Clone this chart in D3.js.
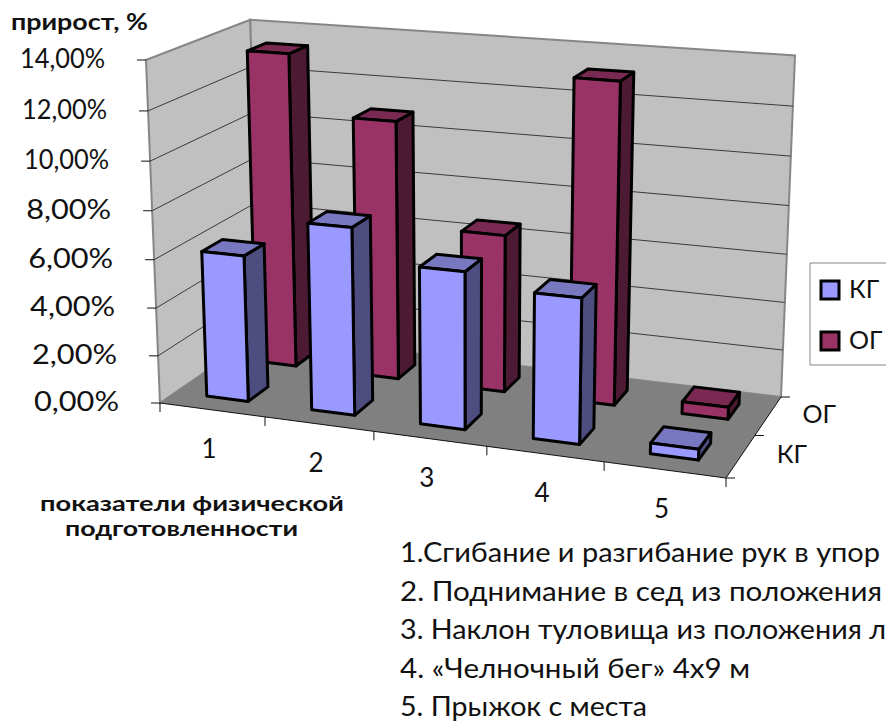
<!DOCTYPE html>
<html>
<head>
<meta charset="utf-8">
<script src="https://cdnjs.cloudflare.com/ajax/libs/d3/7.8.5/d3.min.js"></script>
<style>
  html, body { margin: 0; padding: 0; background: #fff; overflow: hidden; }
  text { font-family: Lato, "Open Sans", sans-serif; fill: #111; }
</style>
</head>
<body>
<script>
// Data
const categories = ["1", "2", "3", "4", "5"];
const seriesNames = ["КГ", "ОГ"];
const kgValues = [6.1, 7.7, 6.4, 5.85, 0.43];
const ogValues = [13.35, 10.9, 6.6, 13.2, 0.5];
const yTicks = [0, 2, 4, 6, 8, 10, 12, 14];
const notes = [
  "1.Сгибание и разгибание рук в упор",
  "2. Поднимание в сед из положения",
  "3. Наклон туловища из положения л",
  "4. «Челночный бег» 4х9 м",
  "5. Прыжок с места"
];

const width = 886, height = 722;

const svg = d3.select("body").append("svg")
  .attr("width", width)
  .attr("height", height);

// Scales work in the chart's own box: u along categories, w in depth, v up
const u = d3.scaleBand().domain(categories).range([0, 1]).paddingInner(0.6).paddingOuter(0.3);
const w = d3.scaleBand().domain(seriesNames).range([0, 1]).paddingInner(0.6).paddingOuter(0.3);
const v = d3.scaleLinear().domain([0, 14]).range([0, 1]);

// Perspective camera, calibrated on the floor corners and the vertical vanishing point
const floor = [[160, 403], [726, 478], [781, 397], [259, 335]];
const vanish = [470, 7990], lift = -0.04325;

function makeCamera(q) {
  const dx1 = q[1][0] - q[2][0], dx2 = q[3][0] - q[2][0], sx = q[0][0] - q[1][0] + q[2][0] - q[3][0];
  const dy1 = q[1][1] - q[2][1], dy2 = q[3][1] - q[2][1], sy = q[0][1] - q[1][1] + q[2][1] - q[3][1];
  const det = dx1 * dy2 - dx2 * dy1;
  const g = (sx * dy2 - dx2 * sy) / det, h = (dx1 * sy - sx * dy1) / det;
  const a = q[1][0] - q[0][0] + g * q[1][0], b = q[3][0] - q[0][0] + h * q[3][0];
  const d = q[1][1] - q[0][1] + g * q[1][1], e = q[3][1] - q[0][1] + h * q[3][1];
  return (pu, pw, pv) => {
    const k = lift * pv;
    const den = g * pu + h * pw + 1 + k;
    return [(a * pu + b * pw + q[0][0] + k * vanish[0]) / den,
            (d * pu + e * pw + q[0][1] + k * vanish[1]) / den];
  };
}
const project = makeCamera(floor);
const poly = pts => "M" + pts.map(p => p.join(",")).join("L") + "Z";
const seg = pts => "M" + pts.map(p => p.join(",")).join("L");

// Walls and floor
const edge = "#868686";
svg.append("path").attr("fill", "#c0c0c0").attr("stroke", edge).attr("stroke-width", 2)
  .attr("d", poly([project(0, 0, 0), project(0, 0, 1), project(0, 1, 1), project(0, 1, 0)]));
svg.append("path").attr("fill", "#c0c0c0").attr("stroke", edge).attr("stroke-width", 2)
  .attr("d", poly([project(0, 1, 0), project(0, 1, 1), project(1, 1, 1), project(1, 1, 0)]));
svg.append("path").attr("fill", "#808080")
  .attr("d", poly([project(0, 0, 0), project(1, 0, 0), project(1, 1, 0), project(0, 1, 0)]));

// Gridlines
svg.append("g").selectAll("path")
  .data(yTicks.slice(1, -1))
  .enter().append("path")
  .attr("fill", "none").attr("stroke", "#3a3a3a").attr("stroke-width", 1)
  .attr("d", t => seg([project(0, 0, v(t)), project(0, 1, v(t)), project(1, 1, v(t))]));

// Front edge of the floor and axis ticks
const axisColor = "#111";
svg.append("path").attr("fill", "none").attr("stroke", axisColor).attr("stroke-width", 1)
  .attr("d", seg([project(0, 0, 0), project(1, 0, 0), project(1, 1, 0)]));

const fmt = d3.formatLocale({ decimal: ",", thousands: " ", grouping: [3], currency: ["", ""] }).format(".2%");
const yAxis = svg.append("g");
yTicks.forEach(t => {
  const p = project(0, 0, v(t));
  yAxis.append("line").attr("x1", p[0] - 9).attr("x2", p[0]).attr("y1", p[1]).attr("y2", p[1])
    .attr("stroke", axisColor).attr("stroke-width", 1);
  yAxis.append("text").attr("x", p[0] - 41).attr("y", p[1] + 8)
    .attr("text-anchor", "end").attr("font-size", 27)
    .attr("textLength", 85).attr("lengthAdjust", "spacingAndGlyphs")
    .text(fmt(t / 100));
});

const xStep = u.step();
d3.range(categories.length + 1).forEach(i => {
  const p = project(i * xStep, 0, 0);
  svg.append("line").attr("x1", p[0]).attr("x2", p[0]).attr("y1", p[1]).attr("y2", p[1] + 9)
    .attr("stroke", axisColor).attr("stroke-width", 1);
});
categories.forEach(c => {
  const p = project(u(c) + u.bandwidth() / 2, 0, 0);
  svg.append("text").attr("x", p[0] - 3).attr("y", p[1] + 48)
    .attr("text-anchor", "middle").attr("font-size", 26).text(c);
});
[0, 0.5, 1].forEach(t => {
  const p = project(1, t, 0);
  svg.append("line").attr("x1", p[0]).attr("x2", p[0] + 9).attr("y1", p[1]).attr("y2", p[1])
    .attr("stroke", axisColor).attr("stroke-width", 1);
});
seriesNames.forEach(s => {
  const p = project(1, w(s) + w.bandwidth() / 2, 0);
  svg.append("text").attr("x", p[0] + 51).attr("y", p[1] + 7)
    .attr("text-anchor", "middle").attr("font-size", 25).text(s);
});

// Bars, back row first
const palette = {
  "КГ": { front: "#9999ff", side: "#4d4d80", top: "#7878c0" },
  "ОГ": { front: "#993366", side: "#4d1a33", top: "#7a2952" }
};
const rows = [
  { name: "ОГ", values: ogValues },
  { name: "КГ", values: kgValues }
];
rows.forEach(row => {
  const g = svg.append("g").attr("stroke", "#000").attr("stroke-width", 3).attr("stroke-linejoin", "round");
  const colors = palette[row.name];
  const w0 = w(row.name), w1 = w0 + w.bandwidth();
  row.values.forEach((val, i) => {
    const u0 = u(categories[i]), u1 = u0 + u.bandwidth(), top = v(val);
    g.append("path").attr("fill", colors.side)
      .attr("d", poly([project(u1, w0, 0), project(u1, w1, 0), project(u1, w1, top), project(u1, w0, top)]));
    g.append("path").attr("fill", colors.top)
      .attr("d", poly([project(u0, w0, top), project(u1, w0, top), project(u1, w1, top), project(u0, w1, top)]));
    g.append("path").attr("fill", colors.front)
      .attr("d", poly([project(u0, w0, 0), project(u1, w0, 0), project(u1, w0, top), project(u0, w0, top)]));
  });
});

// Legend, runs off the right of the page like the original
svg.append("path").attr("fill", "#fff").attr("stroke", edge).attr("stroke-width", 1)
  .attr("d", "M886,263H810V365H886");
const legendY = d3.scalePoint().domain(seriesNames).range([290, 341]);
seriesNames.forEach(s => {
  svg.append("rect").attr("x", 821).attr("y", legendY(s) - 9).attr("width", 18).attr("height", 18)
    .attr("fill", palette[s].front).attr("stroke", "#000").attr("stroke-width", 3);
  svg.append("text").attr("x", 849).attr("y", legendY(s) + 8).attr("font-size", 25).text(s);
});

// Axis titles
svg.append("text").attr("x", 11).attr("y", 30).attr("font-size", 23).attr("font-weight", 700)
  .attr("textLength", 137).attr("lengthAdjust", "spacingAndGlyphs").text("прирост, %");
svg.append("text").attr("x", 40).attr("y", 511).attr("font-size", 21).attr("font-weight", 700)
  .attr("textLength", 304).attr("lengthAdjust", "spacingAndGlyphs").text("показатели физической");
svg.append("text").attr("x", 65).attr("y", 536).attr("font-size", 21).attr("font-weight", 700)
  .attr("textLength", 233).attr("lengthAdjust", "spacingAndGlyphs").text("подготовленности");

// Notes under the chart
const noteY = [562, 601, 639, 678, 716];
const noteLen = [480, 482, 486, 350, 247];
notes.forEach((n, i) => {
  svg.append("text").attr("x", 400).attr("y", noteY[i]).attr("font-size", 26)
    .attr("textLength", noteLen[i]).attr("lengthAdjust", "spacingAndGlyphs").text(n);
});
</script>
</body>
</html>
